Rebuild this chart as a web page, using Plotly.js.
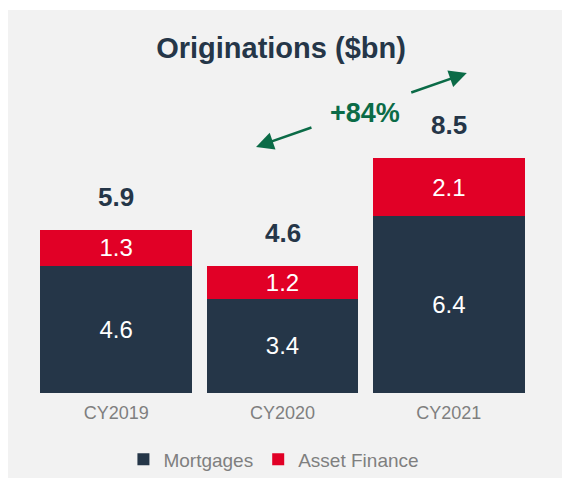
<!DOCTYPE html>
<html>
<head>
<meta charset="utf-8">
<script src="https://cdn.plot.ly/plotly-3.0.1.min.js"></script>
<style>
  html, body { margin: 0; padding: 0; background: #ffffff; }
  #wrap { position: absolute; left: 8px; top: 10px; width: 554px; height: 468px; background: #f2f2f2; }
  #chart { width: 554px; height: 468px; }
</style>
</head>
<body>
<div id="wrap"><div id="chart"></div></div>
<script>
const categories = ['CY2019', 'CY2020', 'CY2021'];
const mortgages = [4.6, 3.4, 6.4];
const assetFinance = [1.3, 1.2, 2.1];
const seriesNames = ['Mortgages', 'Asset Finance'];
const growthLabel = '+84%';
const chartTitle = 'Originations ($bn)';

const NAVY = '#253648';
const RED = '#e10026';
const GREEN = '#0b6b47';
const GRAY = '#7f7f7f';
const FONT = 'Liberation Sans, Arial, sans-serif';

const totals = categories.map((c, i) => Math.round((mortgages[i] + assetFinance[i]) * 10) / 10);

const traces = [
  {
    type: 'bar', name: seriesNames[0], x: categories, y: mortgages,
    marker: { color: NAVY, line: { width: 0 } },
    text: mortgages.map(v => v.toFixed(1)), textposition: 'inside', insidetextanchor: 'middle',
    textfont: { color: '#ffffff', size: 24, family: FONT }, hoverinfo: 'skip'
  },
  {
    type: 'bar', name: seriesNames[1], x: categories, y: assetFinance,
    marker: { color: RED, line: { width: 0 } },
    text: assetFinance.map(v => v.toFixed(1)), textposition: 'inside', insidetextanchor: 'middle',
    textfont: { color: '#ffffff', size: 24, family: FONT }, hoverinfo: 'skip'
  }
];

const annotations = categories.map((c, i) => ({
  x: c, y: totals[i], xref: 'x', yref: 'y', text: '<b>' + totals[i].toFixed(1) + '</b>',
  showarrow: false, yanchor: 'bottom', yshift: 16,
  font: { size: 26, color: NAVY, family: FONT }
}));

// growth label and arrows (decorative, positioned in axis space)
annotations.push({
  x: 1.495, y: 10.13, xref: 'x', yref: 'y', text: '<b>' + growthLabel + '</b>', showarrow: false,
  font: { size: 27, color: GREEN, family: FONT }
});
annotations.push({
  x: 0.841, y: 8.90, ax: 1.183, ay: 9.62, xref: 'x', yref: 'y', axref: 'x', ayref: 'y',
  text: '', showarrow: true, arrowhead: 2, arrowsize: 1.4, arrowwidth: 2.5, arrowcolor: GREEN
});
annotations.push({
  x: 2.108, y: 11.57, ax: 1.765, ay: 10.85, xref: 'x', yref: 'y', axref: 'x', ayref: 'y',
  text: '', showarrow: true, arrowhead: 2, arrowsize: 1.4, arrowwidth: 2.5, arrowcolor: GREEN
});

const layout = {
  width: 554, height: 468,
  paper_bgcolor: '#f2f2f2', plot_bgcolor: '#f2f2f2',
  margin: { l: 25, r: 30, t: 10, b: 85, autoexpand: false },
  barmode: 'stack', bargap: 0.087,
  title: {
    text: '<b>' + chartTitle + '</b>', x: 0.497, xref: 'paper', y: 0.92, yref: 'container', yanchor: 'middle',
    font: { size: 29, color: NAVY, family: FONT }
  },
  font: { family: FONT },
  xaxis: {
    type: 'category', showgrid: false, zeroline: false, showline: false, ticks: '',
    tickfont: { size: 18, color: GRAY, family: FONT }, ticklabelstandoff: 7, automargin: false, fixedrange: true
  },
  yaxis: {
    range: [0, 13.49], showgrid: false, zeroline: false, showline: false, showticklabels: false, ticks: '', automargin: false, fixedrange: true
  },
  showlegend: true,
  legend: {
    orientation: 'h', x: 0.48, xanchor: 'center', xref: 'container', y: 0.04, yanchor: 'middle', yref: 'container',
    font: { size: 19, color: GRAY, family: FONT }, traceorder: 'normal', bgcolor: 'rgba(0,0,0,0)'
  },
  annotations: annotations
};

Plotly.newPlot('chart', traces, layout, { displayModeBar: false, staticPlot: true });
</script>
</body>
</html>
